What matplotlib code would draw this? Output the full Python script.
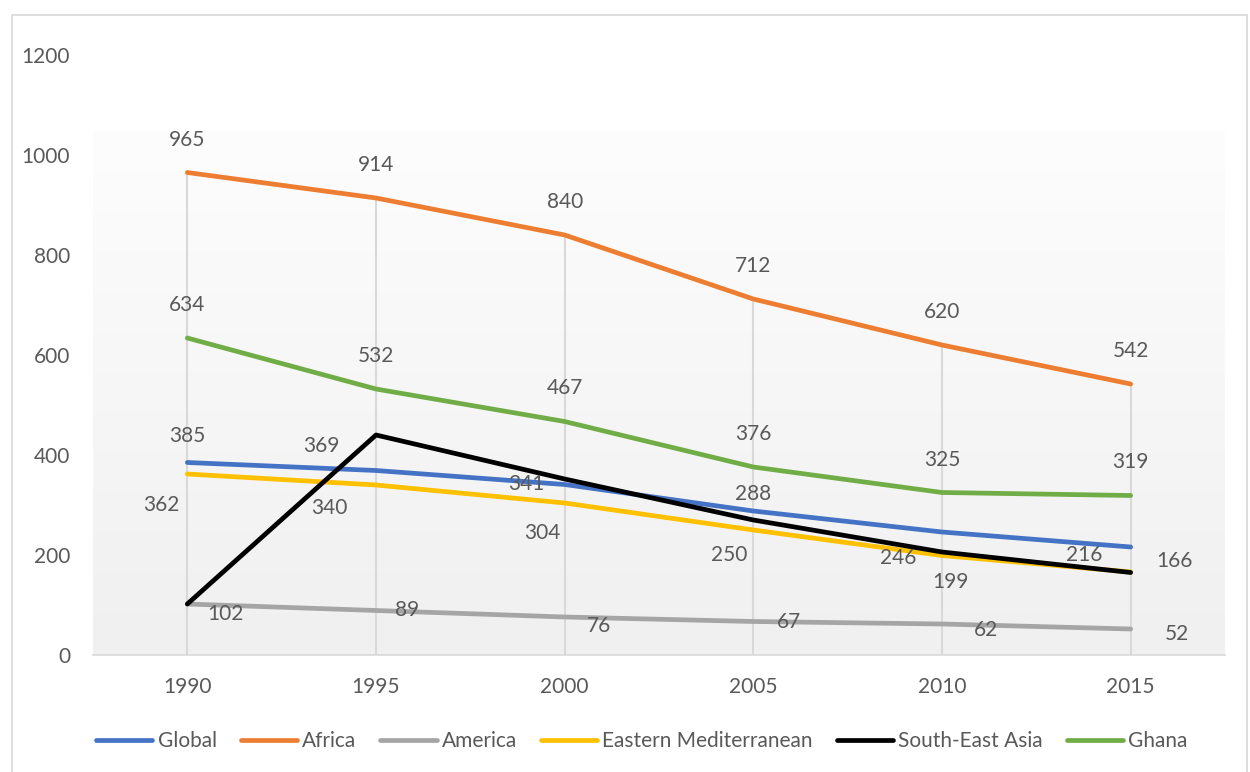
import numpy as np
import matplotlib
matplotlib.use("Agg")
import matplotlib.pyplot as plt
from matplotlib.patches import Rectangle

plt.rcParams['font.family'] = ['Lato', 'DejaVu Sans']

years = ["1990", "1995", "2000", "2005", "2010", "2015"]
global_vals = [385, 369, 341, 288, 246, 216]
africa_vals = [965, 914, 840, 712, 620, 542]
america_vals = [102, 89, 76, 67, 62, 52]
emed_vals = [362, 340, 304, 250, 199, 166]
sea_vals = [102, 440, 352, 270, 206, 165]
ghana_vals = [634, 532, 467, 376, 325, 319]

series = [
    ("Global", global_vals, "#4472C4"),
    ("Africa", africa_vals, "#ED7D31"),
    ("America", america_vals, "#A5A5A5"),
    ("Eastern Mediterranean", emed_vals, "#FFC000"),
    ("South-East Asia", sea_vals, "#000000"),
    ("Ghana", ghana_vals, "#70AD47"),
]

# label offsets in pixels (dx, dy), None = no labels
label_offsets = {
    "Global": [(0, 26), (-55, 24), (-38, 0), (0, 17), (-44, -26), (-46, -8)],
    "Africa": [(0, 33)] * 6,
    "America": [(38, -10), (31, 0), (34, -9), (36, -1), (44, -6), (46, -5)],
    "Eastern Mediterranean": [(-26, -31), (-47, -23), (-22, -30), (-24, -25), (8, -26), (44, 11)],
    "South-East Asia": None,
    "Ghana": [(0, 33)] * 6,
}

text_col = "#595959"
fig = plt.figure(figsize=(12.5, 7.72), dpi=100)
fig.patches.append(Rectangle((12 / 1250, -0.01), 1235 / 1250, 1 - 15 / 772 + 0.01,
                             transform=fig.transFigure, fill=False,
                             edgecolor="#d9d9d9", linewidth=1.2))

ax = fig.add_axes([93 / 1250, 117 / 772, 1132 / 1250, 600 / 772])
x = np.arange(len(years))

# gradient plot area
grad = np.linspace(0, 1, 256).reshape(-1, 1)
ax.imshow(grad, cmap=matplotlib.colors.LinearSegmentedColormap.from_list(
    "g", ["#f0f0f0", "#fdfdfd"]), origin="lower", aspect="auto",
    extent=[0, 1, 0, 0.872], transform=ax.transAxes, zorder=0)

# drop lines
maxv = np.max([s[1] for s in series], axis=0)
ax.vlines(x, 0, maxv, color="#d9d9d9", linewidth=1.5, zorder=1)

for name, vals, col in series:
    ax.plot(x, vals, color=col, linewidth=3.4, label=name, zorder=3,
            solid_capstyle="round", solid_joinstyle="round")
    offs = label_offsets[name]
    if offs is None:
        continue
    for xi, v, (dx, dy) in zip(x, vals, offs):
        ax.annotate(str(v), (xi, v), xytext=(dx, dy), textcoords="offset pixels",
                    ha="center", va="center", fontsize=15, color=text_col, zorder=4)

ax.set_xlim(-0.5, len(years) - 0.5)
ax.set_ylim(0, 1200)
ax.set_yticks(range(0, 1201, 200))
ax.set_xticks(x)
ax.set_xticklabels(years)
ax.tick_params(length=0, labelsize=15, labelcolor=text_col)
ax.tick_params(axis="y", pad=16.5)
ax.tick_params(axis="x", pad=16)
for sp in ["top", "right", "left"]:
    ax.spines[sp].set_visible(False)
ax.spines["bottom"].set_color("#d9d9d9")
ax.spines["bottom"].set_linewidth(1.2)
ax.set_facecolor("none")

leg = fig.legend(loc="center", bbox_to_anchor=(0.5136, (772 - 741) / 772), ncol=6,
                 frameon=False, fontsize=15, handlelength=2.7, handletextpad=0.25,
                 columnspacing=1.15, labelcolor=text_col)

fig.savefig("out.png", dpi=100)
